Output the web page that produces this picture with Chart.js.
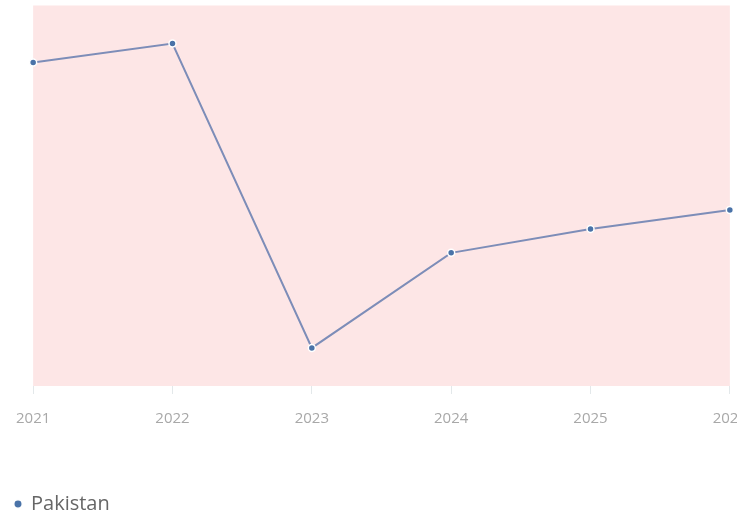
<!DOCTYPE html>
<html>
<head>
<meta charset="utf-8">
<script src="https://cdn.jsdelivr.net/npm/chart.js@4"></script>
<style>
    body { margin: 0; background: #fff; }
    .wrap { width: 737px; height: 521px; overflow: hidden; }
</style>
</head>
<body>
<div class="wrap"><canvas id="chart" width="763" height="521"></canvas></div>
<script>
const years = ["2021", "2022", "2023", "2024", "2025", "2026"];
const pakistan = [5.8, 6.2, -0.2, 1.8, 2.3, 2.7];
const seriesName = "Pakistan";

// pink fill behind the plot area
const areaFill = {
    id: "areaFill",
    beforeDraw(chart) {
        const { ctx, chartArea } = chart;
        ctx.save();
        ctx.fillStyle = "#fde6e6";
        ctx.fillRect(chartArea.left, chartArea.top, chartArea.right - chartArea.left, chartArea.bottom - chartArea.top);
        ctx.restore();
    }
};

// pull the legend box a bit tighter to the bottom edge
const legendTrim = {
    id: "legendTrim",
    beforeUpdate(chart) {
        const legend = chart.legend;
        if (!legend || legend._trimmed) return;
        const fit = legend.fit;
        legend.fit = function () {
            fit.call(this);
            this.height -= 3;
        };
        legend._trimmed = true;
    }
};

const ctx = document.getElementById("chart").getContext("2d");

new Chart(ctx, {
    type: "line",
    data: {
        labels: years,
        datasets: [{
            label: seriesName,
            data: pakistan,
            borderColor: "#7d8db8",
            borderWidth: 2,
            backgroundColor: "#3f78b5",
            pointBackgroundColor: "#4a73a8",
            pointBorderColor: "#ffffff",
            pointBorderWidth: 1.5,
            pointRadius: 3.5,
            tension: 0,
            fill: false,
        }],
    },
    options: {
        responsive: false,
        animation: false,
        layout: {
            padding: { top: 5, right: 30, left: 0, bottom: 0 },
        },
        scales: {
            x: {
                offset: false,
                grid: {
                    drawOnChartArea: false,
                    drawTicks: true,
                    tickLength: 8,
                    color: "#e3e8ea",
                },
                border: { display: false },
                ticks: {
                    color: "#a8a8a8",
                    padding: 16,
                    maxRotation: 0,
                    font: { family: "Open Sans", size: 15 },
                },
                afterFit(scale) {
                    scale.height = 93;
                },
            },
            y: {
                min: -1,
                max: 7,
                grid: { display: false },
                border: { display: false },
                ticks: { display: false },
                afterFit(scale) {
                    scale.width = 28;
                },
            },
        },
        plugins: {
            legend: {
                position: "bottom",
                align: "start",
                labels: {
                    usePointStyle: true,
                    pointStyle: "circle",
                    boxWidth: 6,
                    boxHeight: 6,
                    padding: 15,
                    color: "#666666",
                    font: { family: "Open Sans", size: 20 },
                },
            },
            tooltip: { enabled: false },
        },
    },
    plugins: [areaFill, legendTrim],
});
</script>
</body>
</html>
